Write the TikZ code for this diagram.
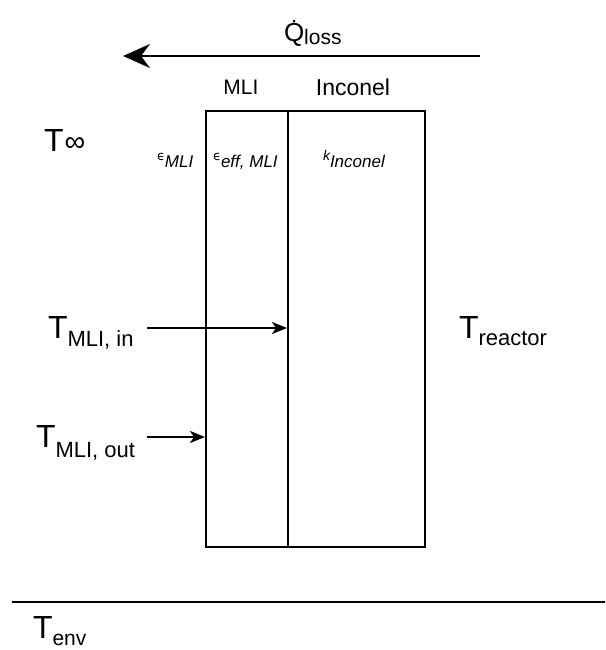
\documentclass[tikz,border=0pt]{standalone}
\usepackage{fontspec}
\setmainfont{Liberation Sans}
\newfontfamily\dvs{DejaVu Sans}
\usetikzlibrary{arrows.meta}
\newcommand\fsz[1]{\fontsize{#1}{#1}\selectfont}
\newcommand\lowsub[3]{\raisebox{-#1}{\fsz{#2}#3}}
\begin{document}
\begin{tikzpicture}[x=1pt,y=-1pt,line width=2.4pt,
  lbl/.style={inner sep=0pt,outer sep=0pt},
  layer/.style={draw,inner sep=0pt,minimum height=436pt,anchor=north west},
  arr/.style={-{Stealth[length=15pt,width=12pt,inset=4pt]}},
  bigarr/.style={-{Stealth[length=27pt,width=24pt,inset=9pt]}}]
\useasboundingbox (0,0) rectangle (605,650);
% layers
\node[layer,minimum width=82pt] (mli) at (205,110) {};
\node[layer,minimum width=137pt] (inc) at (287,110) {};
% heat loss
\node[lbl,anchor=base west] (q) at (284,42) {\fsz{26}\.{Q}\lowsub{3pt}{21}{loss}};
\coordinate (qs) at (480,56);
\coordinate (qe) at (123,56);
\draw[bigarr] (qs) -- (qe);
% headings
\node[lbl] (hmli) at (241,87) {\fsz{21}MLI};
\node[lbl] (hinc) at (353,87) {\fsz{23}Inconel};
% properties
\node[lbl,anchor=base west] (emli) at (157,160) {{\dvs\fsz{13}ϵ}\lowsub{7pt}{17}{\itshape MLI}};
\node[lbl,anchor=base west] (eeff) at (213,160) {{\dvs\fsz{13}ϵ}\lowsub{7pt}{17}{\itshape eff, MLI}};
\node[lbl,anchor=base west] (kinc) at (323,160) {{\fsz{14}\itshape k}\lowsub{7pt}{17}{\itshape Inconel}};
% temperatures
\node[lbl,anchor=base west] (tinf) at (44,151) {\fsz{32}T\kern1pt{\fsz{29}∞}};
\node[lbl,anchor=base west] (tin) at (48,338) {\fsz{32}T\lowsub{8pt}{22}{MLI, in}};
\node[lbl,anchor=base west] (tout) at (36,447) {\fsz{32}T\lowsub{10pt}{22}{MLI, out}};
\node[lbl,anchor=base west] (treac) at (459,338) {\fsz{32}T\lowsub{7pt}{22}{reactor}};
\node[lbl,anchor=base west] (tenv) at (33,638) {\fsz{32}T\lowsub{7pt}{21}{env}};
% arrows to interfaces
\coordinate (ain) at (147,328);
\draw[arr] (ain) -- (inc.west |- ain);
\coordinate (aout) at (147,437);
\draw[arr] (aout) -- (mli.west |- aout);
% environment line
\coordinate (g1) at (12,602);
\coordinate (g2) at (605,602);
\draw (g1) -- (g2);
\end{tikzpicture}
\end{document}
